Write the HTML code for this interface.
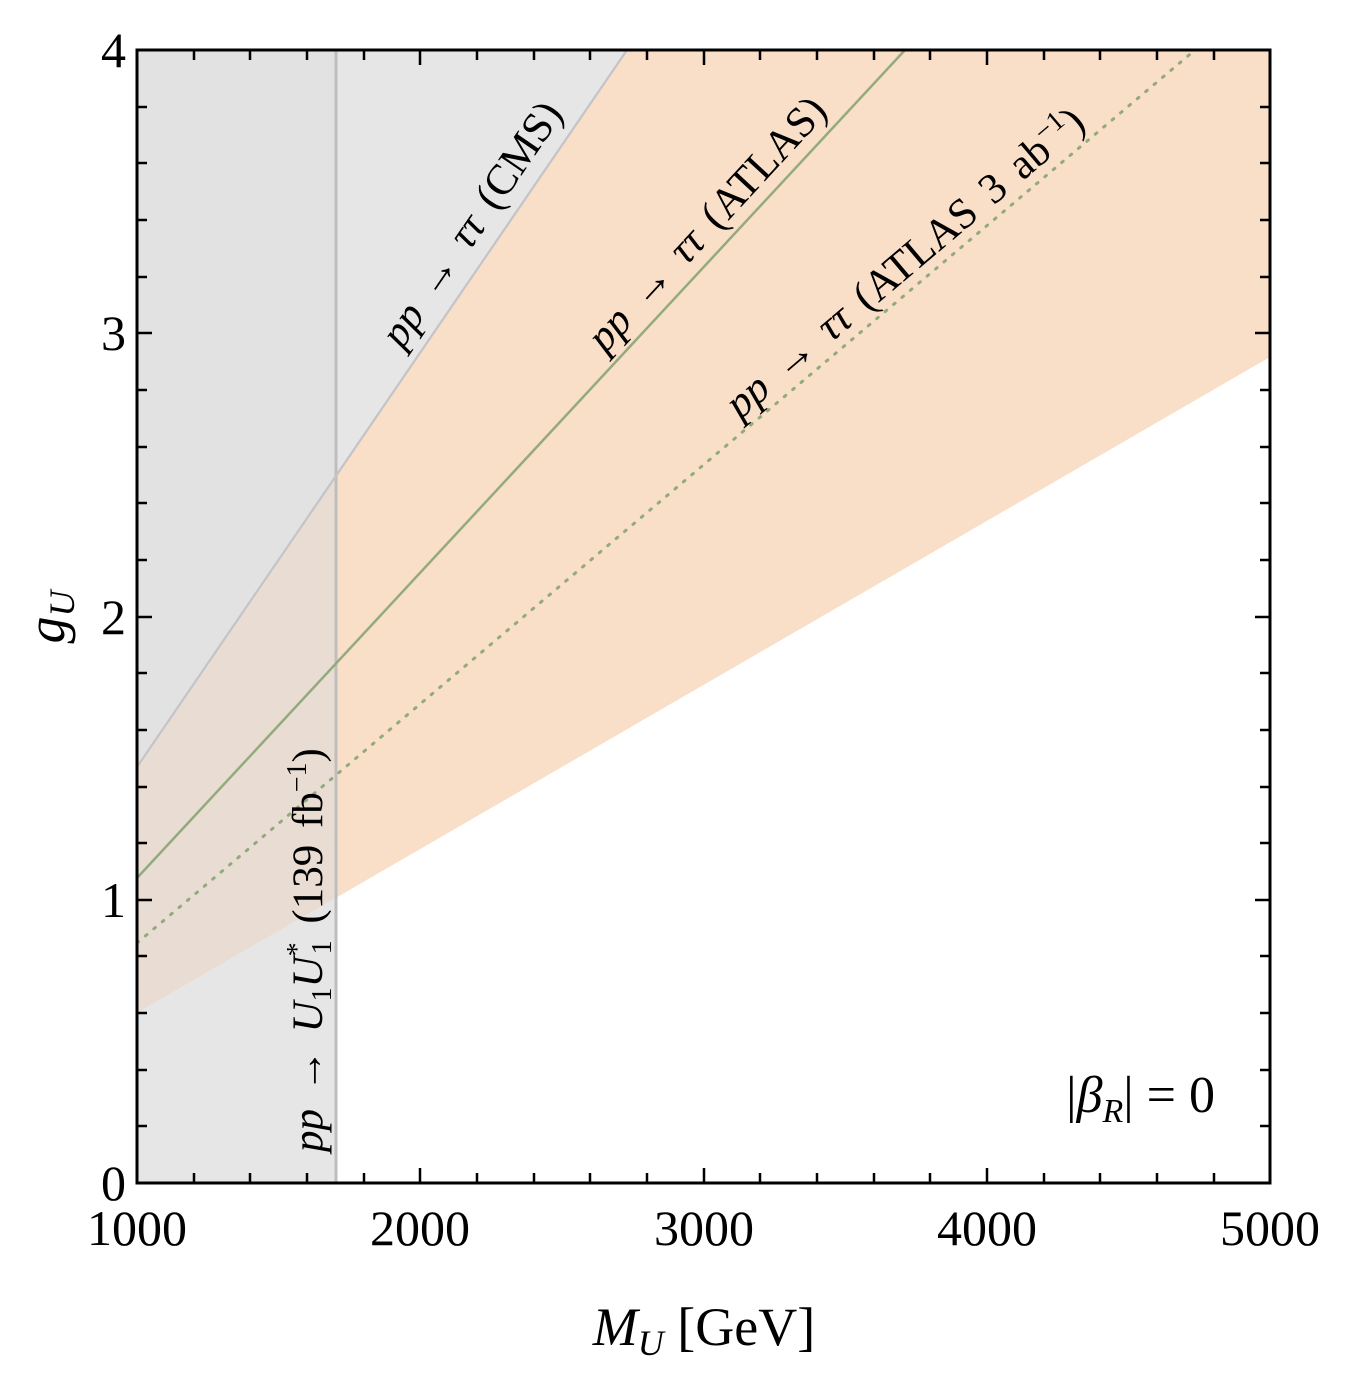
<!DOCTYPE html>
<html><head><meta charset="utf-8"><style>
body{margin:0;background:#fff}
svg{display:block}
text{font-family:"Liberation Serif",serif;fill:#000}
.it{font-style:italic}
</style></head><body>
<svg width="1364" height="1374" viewBox="0 0 1364 1374" xmlns="http://www.w3.org/2000/svg">
<defs><clipPath id="c"><rect x="137" y="50" width="1133" height="1133"/></clipPath></defs>
<g clip-path="url(#c)">
<polygon points="137,767 627,50 1270,50 1270,357 137,1013" fill="#f9dec8"/>
<polygon points="137,767 627,50 137,50" fill="#e6e6e6"/>
<!-- vertical region pieces -->
<polygon points="137,50 336,50 336,475 137,767" fill="#e2e2e2"/>
<polygon points="137,767 336,475 336,898 137,1013" fill="#e9ddd3"/>
<polygon points="137,1013 336,898 336,1183 137,1183" fill="#e6e6e6"/>
<line x1="336" y1="50" x2="336" y2="1183" stroke="#bebebe" stroke-width="3"/>
<line x1="137" y1="767" x2="627" y2="50" stroke="#c4c4c8" stroke-width="2.2"/>
<line x1="137" y1="878" x2="905" y2="50" stroke="#93ab7c" stroke-width="2.5"/>
<line x1="137" y1="943" x2="1195" y2="50" stroke="#93ab7c" stroke-width="3" stroke-dasharray="2,9" stroke-linecap="round"/>
</g>
<rect x="137" y="50" width="1133" height="1133" fill="none" stroke="#000" stroke-width="3"/>
<g stroke="#000" stroke-width="2.5">
<path d="
M420,1183v-15M704,1183v-15M987,1183v-15
M420,50v15M704,50v15M987,50v15
M194,1183v-10M250,1183v-10M307,1183v-10M364,1183v-10
M477,1183v-10M534,1183v-10M590,1183v-10M647,1183v-10
M760,1183v-10M817,1183v-10M874,1183v-10M930,1183v-10
M1044,1183v-10M1100,1183v-10M1157,1183v-10M1214,1183v-10
M194,50v10M250,50v10M307,50v10M364,50v10
M477,50v10M534,50v10M590,50v10M647,50v10
M760,50v10M817,50v10M874,50v10M930,50v10
M1044,50v10M1100,50v10M1157,50v10M1214,50v10
M137,900h15M137,617h15M137,333h15
M1270,900h-15M1270,617h-15M1270,333h-15
M137,1126h10M137,1070h10M137,1013h10M137,956h10
M137,843h10M137,787h10M137,730h10M137,673h10
M137,560h10M137,503h10M137,447h10M137,390h10
M137,277h10M137,220h10M137,163h10M137,107h10
M1270,1126h-10M1270,1070h-10M1270,1013h-10M1270,956h-10
M1270,843h-10M1270,787h-10M1270,730h-10M1270,673h-10
M1270,560h-10M1270,503h-10M1270,447h-10M1270,390h-10
M1270,277h-10M1270,220h-10M1270,163h-10M1270,107h-10
" fill="none"/>
</g>
<g font-size="50" text-anchor="middle">
<text x="137" y="1245">1000</text>
<text x="420" y="1245">2000</text>
<text x="704" y="1245">3000</text>
<text x="987" y="1245">4000</text>
<text x="1270" y="1245">5000</text>
</g>
<g font-size="50" text-anchor="end">
<text x="126" y="1200">0</text>
<text x="126" y="917">1</text>
<text x="126" y="634">2</text>
<text x="126" y="350">3</text>
<text x="126" y="67">4</text>
</g>
<text x="704" y="1345" font-size="54" text-anchor="middle"><tspan class="it">M</tspan><tspan class="it" font-size="36" dy="10">U</tspan><tspan dy="-10"> [GeV]</tspan></text>
<text transform="translate(64,617) rotate(-90)" font-size="54" text-anchor="middle"><tspan class="it">g</tspan><tspan class="it" font-size="36" dy="10">U</tspan></text>
<text x="1215" y="1112" font-size="52" text-anchor="end">|<tspan class="it">β</tspan><tspan class="it" font-size="34" dy="10">R</tspan><tspan dy="-10">| = 0</tspan></text>
<g font-size="43" word-spacing="6">
<text transform="translate(402,350) rotate(-55.6)"><tspan class="it">pp</tspan> → <tspan class="it">ττ</tspan> (CMS)</text>
<text transform="translate(605,354) rotate(-47.2)"><tspan class="it">pp</tspan> → <tspan class="it">ττ</tspan> (ATLAS)</text>
<text transform="translate(740,420) rotate(-40.2)"><tspan class="it">pp</tspan> → <tspan class="it">ττ</tspan> (ATLAS 3 ab<tspan font-size="28" dy="-16">−1</tspan><tspan dy="16">)</tspan></text>
<text transform="translate(322,1152) rotate(-90)"><tspan class="it">pp</tspan> → <tspan class="it">U</tspan><tspan font-size="28" dy="9">1</tspan><tspan class="it" dy="-9">U</tspan><tspan font-size="28" dy="-16">*</tspan><tspan font-size="28" dx="-12" dy="25">1</tspan><tspan dy="-9"> (139 fb</tspan><tspan font-size="28" dy="-16">−1</tspan><tspan dy="16">)</tspan></text>
</g>
</svg>
</body></html>
